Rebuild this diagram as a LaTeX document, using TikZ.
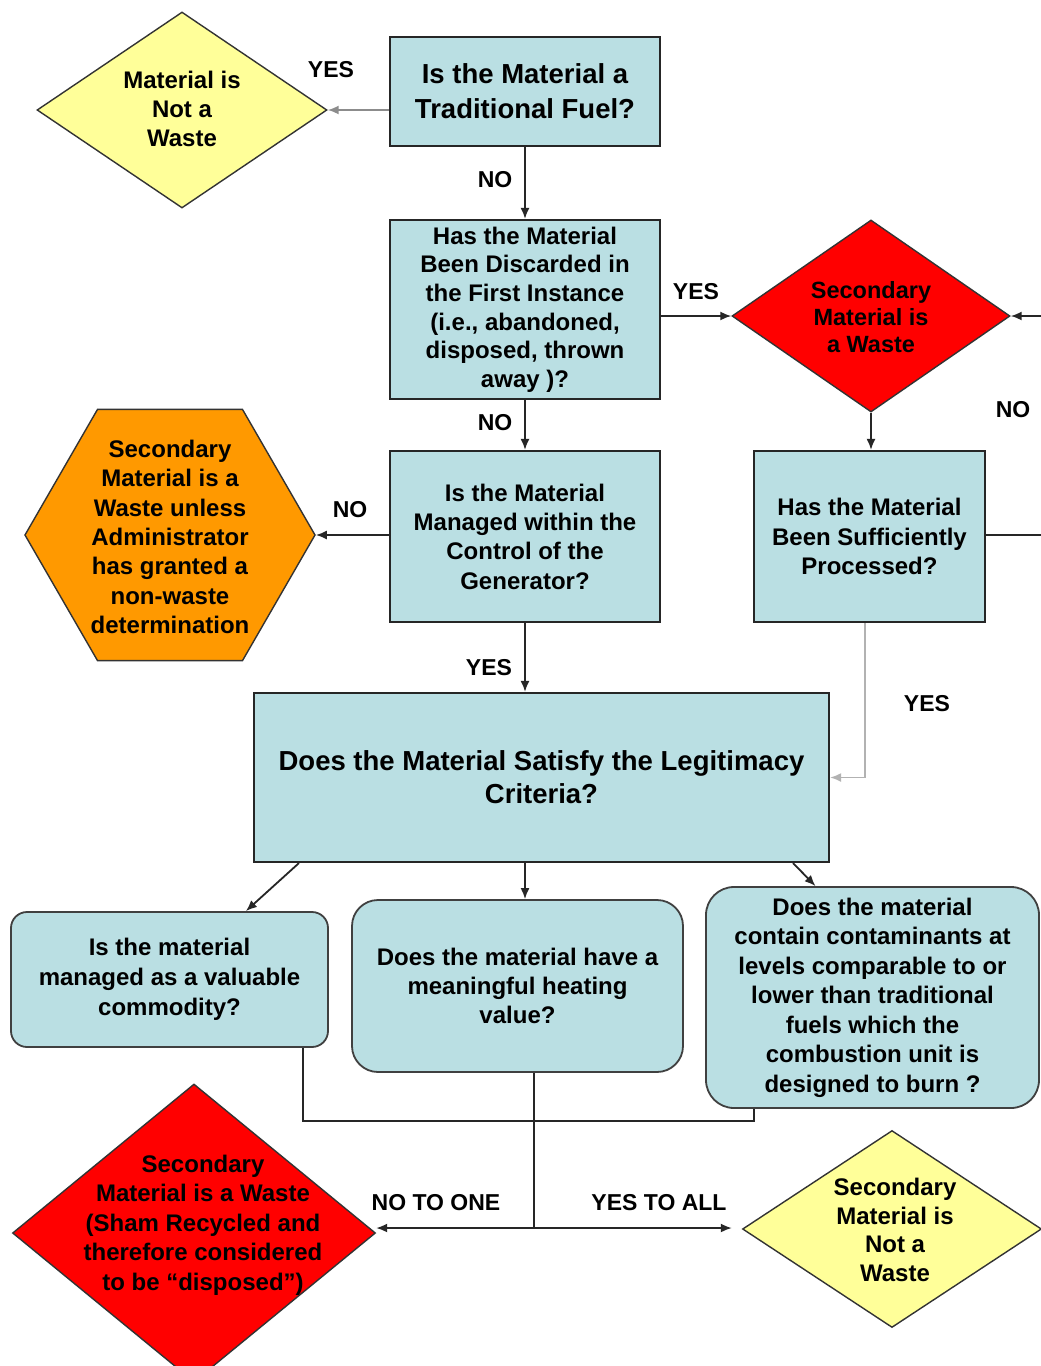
\documentclass[tikz,border=0pt]{standalone}
\usepackage{fontspec}
\setmainfont{Liberation Sans}
\usetikzlibrary{arrows.meta,shapes.geometric,calc}
\definecolor{boxblue}{HTML}{BADFE3}
\definecolor{yel}{HTML}{FFFF99}
\definecolor{org}{HTML}{FF9900}
\definecolor{redd}{HTML}{FF0000}
\newcommand\myfA{\bfseries\fontsize{27.5}{35}\selectfont}
\newcommand\myfE{\bfseries\fontsize{27.5}{33}\selectfont}
\newcommand\myfB{\bfseries\fontsize{24}{29.3}\selectfont}
\newcommand\myfL{\bfseries\fontsize{23}{26}\selectfont}
\tikzset{
  qbox/.style={draw=black!85, line width=2.2pt, fill=boxblue, inner sep=0pt, align=center, text=black},
  rbox/.style={draw=black!75, line width=1.8pt, fill=boxblue, rounded corners=#1, inner sep=0pt, align=center, text=black},
  rbox/.default=20pt,
  diam/.style={diamond, draw=black!80, line width=1.4pt, fill=#1, inner sep=0pt},
  dtext/.style={align=center, text=black, inner sep=0pt},
  lbl/.style={font=\myfL, text=black, inner sep=0pt},
  arr/.style={draw=black!85, line width=1.8pt, -{Latex[length=11pt,width=9pt]}},
  arrg/.style={draw=black!45, line width=1.8pt, -{Latex[length=11pt,width=9pt]}},
  ln/.style={draw=black!85, line width=1.8pt},
  lng/.style={draw=black!30, line width=1.8pt, -{Latex[length=11pt,width=9pt]}}
}
\begin{document}
\begin{tikzpicture}[x=1pt,y=-1pt]
\useasboundingbox (0,0) rectangle (1041,1366);
\fill[white] (0,0) rectangle (1041,1366);
\clip (0,0) rectangle (1041,1366);

% question boxes
\node[qbox, font=\myfA, minimum width=270pt, minimum height=109pt] (a) at (525,91.5) {Is the Material a\\Traditional Fuel?};
\node[qbox, font=\bfseries\fontsize{24}{28.6}\selectfont, minimum width=270pt, minimum height=179pt] (b) at (525,309.5) {Has the Material\\Been Discarded in\\the First Instance\\(i.e., abandoned,\\disposed, thrown\\away )?};
\node[qbox, font=\myfB, minimum width=270pt, minimum height=171pt] (c) at (525,536.5) {Is the Material\\Managed within the\\Control of the\\Generator?};
\node[qbox, font=\myfB, minimum width=231pt, minimum height=171pt] (d) at (869.5,536.5) {Has the Material\\Been Sufficiently\\Processed?};
\node[qbox, font=\myfE, minimum width=575pt, minimum height=169pt] (e) at (541.5,777.5) {Does the Material Satisfy the Legitimacy\\Criteria?};

% criteria boxes
\node[rbox=16pt, font=\bfseries\fontsize{24}{30}\selectfont, minimum width=317pt, minimum height=135pt] (f1) at (169.5,979.5) {Is the material\\managed as a valuable\\commodity?};
\node[rbox=26pt, font=\bfseries\fontsize{24}{29}\selectfont, minimum width=331pt, minimum height=172pt] (f2) at (517.5,986) {Does the material have a\\meaningful heating\\value?};
\node[rbox=28pt, font=\bfseries\fontsize{24}{29.5}\selectfont, minimum width=333pt, minimum height=221pt] (f3) at (872.5,997.5) {Does the material\\contain contaminants at\\levels comparable to or\\lower than traditional\\fuels which the\\combustion unit is\\designed to burn ?};

% outcome shapes
\node[diam=yel, minimum width=290pt, minimum height=196pt] (y1) at (182,110) {};
\node[dtext, font=\myfB] (y1t) at (182,109) {Material is\\Not a\\Waste};
\node[diam=redd, minimum width=278pt, minimum height=192pt] (r1) at (871,316) {};
\node[dtext, font=\bfseries\fontsize{23.5}{27}\selectfont] (r1t) at (871,317) {Secondary\\Material is\\a Waste};
\node[regular polygon, regular polygon sides=6, minimum size=290pt, inner sep=0pt, draw=black!80, line width=1.4pt, fill=org] (hex) at (170,535) {};
\node[dtext, font=\myfB] (hext) at (170,537) {Secondary\\Material is a\\Waste unless\\Administrator\\has granted a\\non-waste\\determination};
\node[diam=redd, minimum width=363pt, minimum height=298pt] (r2) at (194,1233) {};
\node[dtext, font=\bfseries\fontsize{24}{29.5}\selectfont] (r2t) at (203,1225) {Secondary\\Material is a Waste\\(Sham Recycled and\\therefore considered\\to be “disposed”)};
\node[diam=yel, minimum width=299pt, minimum height=197pt] (y2) at (892,1229) {};
\node[dtext, font=\bfseries\fontsize{24}{28.7}\selectfont] (y2t) at (895,1230) {Secondary\\Material is\\Not a\\Waste};

% helper coordinates
\coordinate (rx1) at (1045,535);
\coordinate (rx2) at (1045,316);
\coordinate (busL) at (303,1121);
\coordinate (busR) at (754,1121);
\coordinate (jn) at (534,1228);

% connectors
\draw[arrg] (y1.east -| a.west) -- (y1.east);
\draw[arr] (a.south) -- (b.north);
\draw[arr] (r1.west -| b.east) -- (r1.west);
\draw[arr] (b.south) -- (c.north);
\draw[arr] (hex.east -| c.west) -- (hex.east);
\draw[arr] (r1.south) -- (r1.south |- d.north);
\draw[ln] (rx1 -| d.east) -- (rx1);
\draw[arr] (rx2) -- (r1.east);
\draw[lng] ([xshift=-4.5pt]d.south) |- (e.east);
\draw[arr] (c.south) -- (c.south |- e.north);
\draw[arr] ([xshift=46pt]e.south west) -- ([xshift=-83pt]f1.north east);
\draw[arr] (c.south |- e.south) -- (c.south |- f2.north);
\draw[arr] ([xshift=-37pt]e.south east) -- ([xshift=-57pt]f3.north);
\draw[ln] (busL |- f1.south) -- (busL) -- (busR) -- (busR |- f3.south);
\draw[ln] (jn |- f2.south) -- (jn);
\draw[arr] (jn) -- (jn -| r2.east);
\draw[arr] (jn) -- ([xshift=-10pt]jn -| y2.west);

% labels
\node[lbl] (l1) at (331,70) {YES};
\node[lbl] (l2) at (495,180) {NO};
\node[lbl] (l3) at (696,292) {YES};
\node[lbl] (l4) at (495,423) {NO};
\node[lbl] (l5) at (350,510) {NO};
\node[lbl] (l6) at (1013,410) {NO};
\node[lbl] (l7) at (489,668) {YES};
\node[lbl] (l8) at (927,704) {YES};
\node[lbl] (l9) at (436,1203) {NO TO ONE};
\node[lbl] (l10) at (659,1203) {YES TO ALL};
\end{tikzpicture}
\end{document}
